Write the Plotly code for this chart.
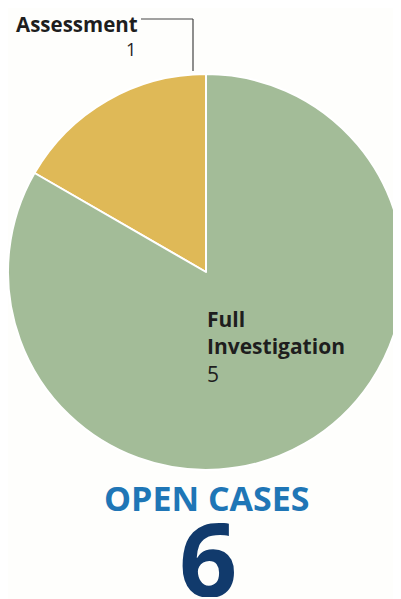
import plotly.graph_objects as go

labels = ["Assessment", "Full Investigation"]
values = [1, 5]
colors = ["#dfb957", "#a3bc98"]
title_text = "OPEN CASES"
total = sum(values)

W, H = 401, 599
OFF = 8  # page body margin offset

def px(x):
    return (x - OFF) / W

def py(y):
    return 1 - (y - OFF) / H

fig = go.Figure(go.Pie(
    labels=labels,
    values=values,
    sort=False,
    direction="clockwise",
    rotation=-60,
    textinfo="none",
    hoverinfo="label+value",
    marker=dict(colors=colors, line=dict(color="#ffffff", width=2)),
    domain=dict(x=[px(8), px(404)], y=[py(470), py(74)]),
    showlegend=False,
))

ann = []
ann.append(dict(x=px(14), y=py(8), xref="paper", yref="paper", xanchor="left", yanchor="top",
                text="<b>" + labels[0] + "</b>", showarrow=False,
                font=dict(family="Open Sans", size=20.5, color="#1e1e1e")))
ann.append(dict(x=px(138), y=py(49), xref="paper", yref="paper", xanchor="right", yanchor="middle",
                text=str(values[0]), showarrow=False,
                font=dict(family="Open Sans", size=18, color="#1e1e1e")))
ann.append(dict(x=px(205), y=py(303), xref="paper", yref="paper", xanchor="left", yanchor="top",
                align="left",
                text="<b>Full<br>Investigation</b><br>" + str(values[1]), showarrow=False,
                font=dict(family="Open Sans", size=21, color="#1e1e1e")))
ann.append(dict(x=px(207), y=py(498), xref="paper", yref="paper", xanchor="center", yanchor="middle",
                text="<b>" + title_text + "</b>", showarrow=False, height=30, valign="middle",
                font=dict(family="Open Sans", size=34, color="#1f76b6")))
ann.append(dict(x=px(208), y=py(557), xref="paper", yref="paper", xanchor="center", yanchor="middle",
                text="<b>" + str(total) + "</b>", showarrow=False, height=80, valign="middle",
                font=dict(family="Open Sans", size=102, color="#113a6c")))

shapes = [
    dict(type="line", xref="paper", yref="paper", x0=px(141), y0=py(19), x1=px(193), y1=py(19),
         line=dict(color="#444444", width=1.2)),
    dict(type="line", xref="paper", yref="paper", x0=px(193), y0=py(19), x1=px(193), y1=py(71),
         line=dict(color="#444444", width=1.2)),
]

fig.update_layout(
    width=W, height=H,
    margin=dict(l=0, r=0, t=0, b=0),
    paper_bgcolor="#fefefc",
    plot_bgcolor="#fefefc",
    annotations=ann,
    shapes=shapes,
)

fig.write_html("out.html")
